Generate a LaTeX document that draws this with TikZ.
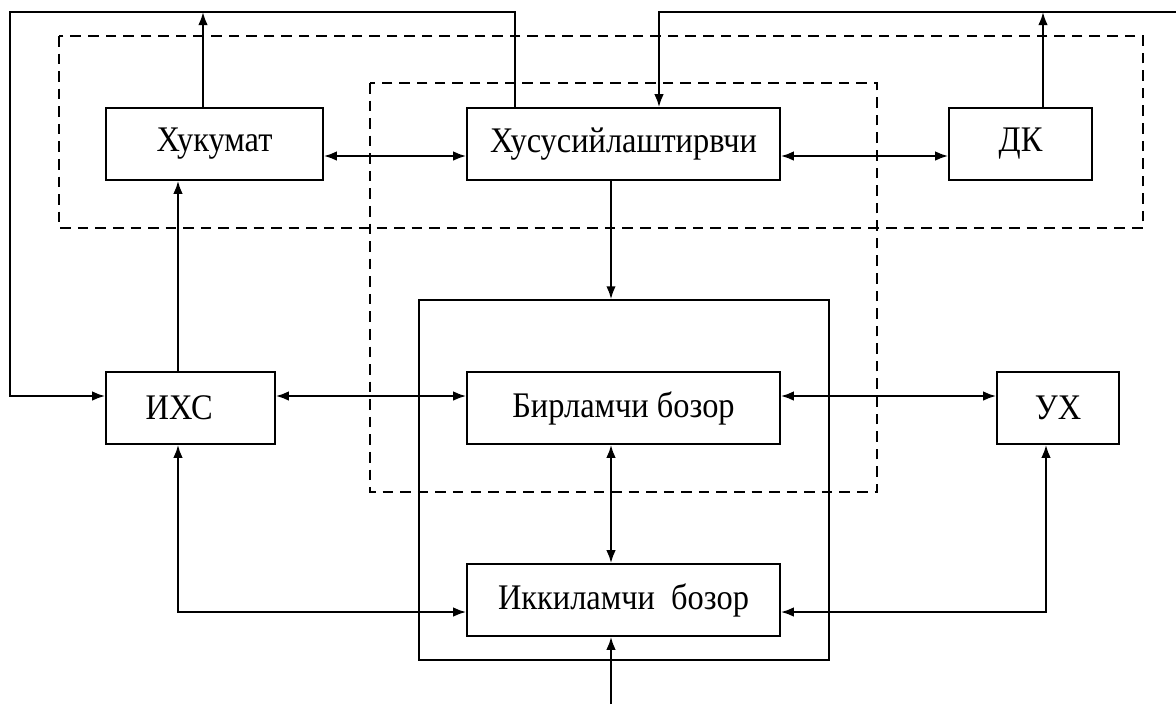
\documentclass[tikz,border=0pt]{standalone}
\usepackage{fontspec}
\setmainfont[FakeStretch=0.9]{Liberation Serif}
\usetikzlibrary{arrows.meta}

\begin{document}
\begin{tikzpicture}[x=0.02cm,y=-0.02cm,
  blok/.style={draw,line width=0.9pt,inner sep=0pt,minimum height=1.44cm,
    font=\fontsize{20.5}{24}\selectfont},
  oqim/.style={line width=1.2pt,-{Latex[length=2.6mm,width=1.9mm]}},
  ikki/.style={line width=1.2pt,{Latex[length=2.6mm,width=1.9mm]}-{Latex[length=2.6mm,width=1.9mm]}},
  chegara/.style={line width=0.8pt,dash pattern=on 6pt off 4pt}]
% Colors
\definecolor{outlineColor}{RGB}{0,0,0}
\useasboundingbox (0,0) rectangle (1176,704);
% Rows and columns of the connectors
\coordinate (top) at (0,12);
\coordinate (r1)  at (0,156);
\coordinate (r2)  at (0,396);
\coordinate (r3)  at (0,612);
\coordinate (bot) at (0,704);
\coordinate (cL)  at (10,0);
\coordinate (c1)  at (178,0);
\coordinate (c2)  at (203,0);
\coordinate (c3)  at (515,0);
\coordinate (c4)  at (611,0);
\coordinate (c5)  at (659,0);
\coordinate (c6)  at (1043,0);
\coordinate (c7)  at (1046,0);
\coordinate (cR)  at (1176,0);
% Dashed groups
\begin{scope}[outlineColor]
	\draw[chegara] (59,36) rectangle (1143,228);  % upper group
	\draw[chegara] (370,83) rectangle (877,492);  % inner group
\end{scope}
% Market frame and boxes
\node[draw,line width=0.9pt,minimum width=8.2cm,minimum height=7.2cm] (bozor) at (624,480) {};
\node[blok,minimum width=4.34cm] (xuk) at (214.5,144) {Хукумат};
\node[blok,minimum width=6.26cm] (xus) at (623.5,144) {Хусусийлаштирвчи};
\node[blok,minimum width=2.86cm] (dk)  at (1020.5,144) {ДК};
\node[blok,minimum width=3.38cm] (ixs) at (190.5,408) {ИХС\hspace*{0.45cm}};
\node[blok,minimum width=6.26cm] (bir) at (623.5,408) {Бирламчи бозор};
\node[blok,minimum width=2.44cm] (ux)  at (1058,408) {УХ};
\node[blok,minimum width=6.26cm] (ikk) at (623.5,600) {Иккиламчи\ \ бозор};
% Connectors
\draw[ikki] (xuk.east |- r1) -- (xus.west |- r1);
\draw[ikki] (xus.east |- r1) -- (dk.west |- r1);
\draw[oqim] (xuk.north -| c2) -- (c2 |- top);
\draw[oqim] (dk.north -| c6) -- (c6 |- top);
\draw[oqim] (cR |- top) -- (c5 |- top) -- (xus.north -| c5);
\draw[oqim] (xus.north -| c3) -- (c3 |- top) -- (cL |- top) -- (cL |- r2) -- (ixs.west |- r2);
\draw[oqim] (xus.south -| c4) -- (bozor.north -| c4);
\draw[oqim] (ixs.north -| c1) -- (xuk.south -| c1);
\draw[ikki] (ixs.east |- r2) -- (bir.west |- r2);
\draw[ikki] (bir.east |- r2) -- (ux.west |- r2);
\draw[ikki] (bir.south -| c4) -- (ikk.north -| c4);
\draw[ikki] (ixs.south -| c1) -- (c1 |- r3) -- (ikk.west |- r3);
\draw[ikki] (ux.south -| c7) -- (c7 |- r3) -- (ikk.east |- r3);
\draw[oqim] (c4 |- bot) -- (ikk.south -| c4);
\end{tikzpicture}
\end{document}
